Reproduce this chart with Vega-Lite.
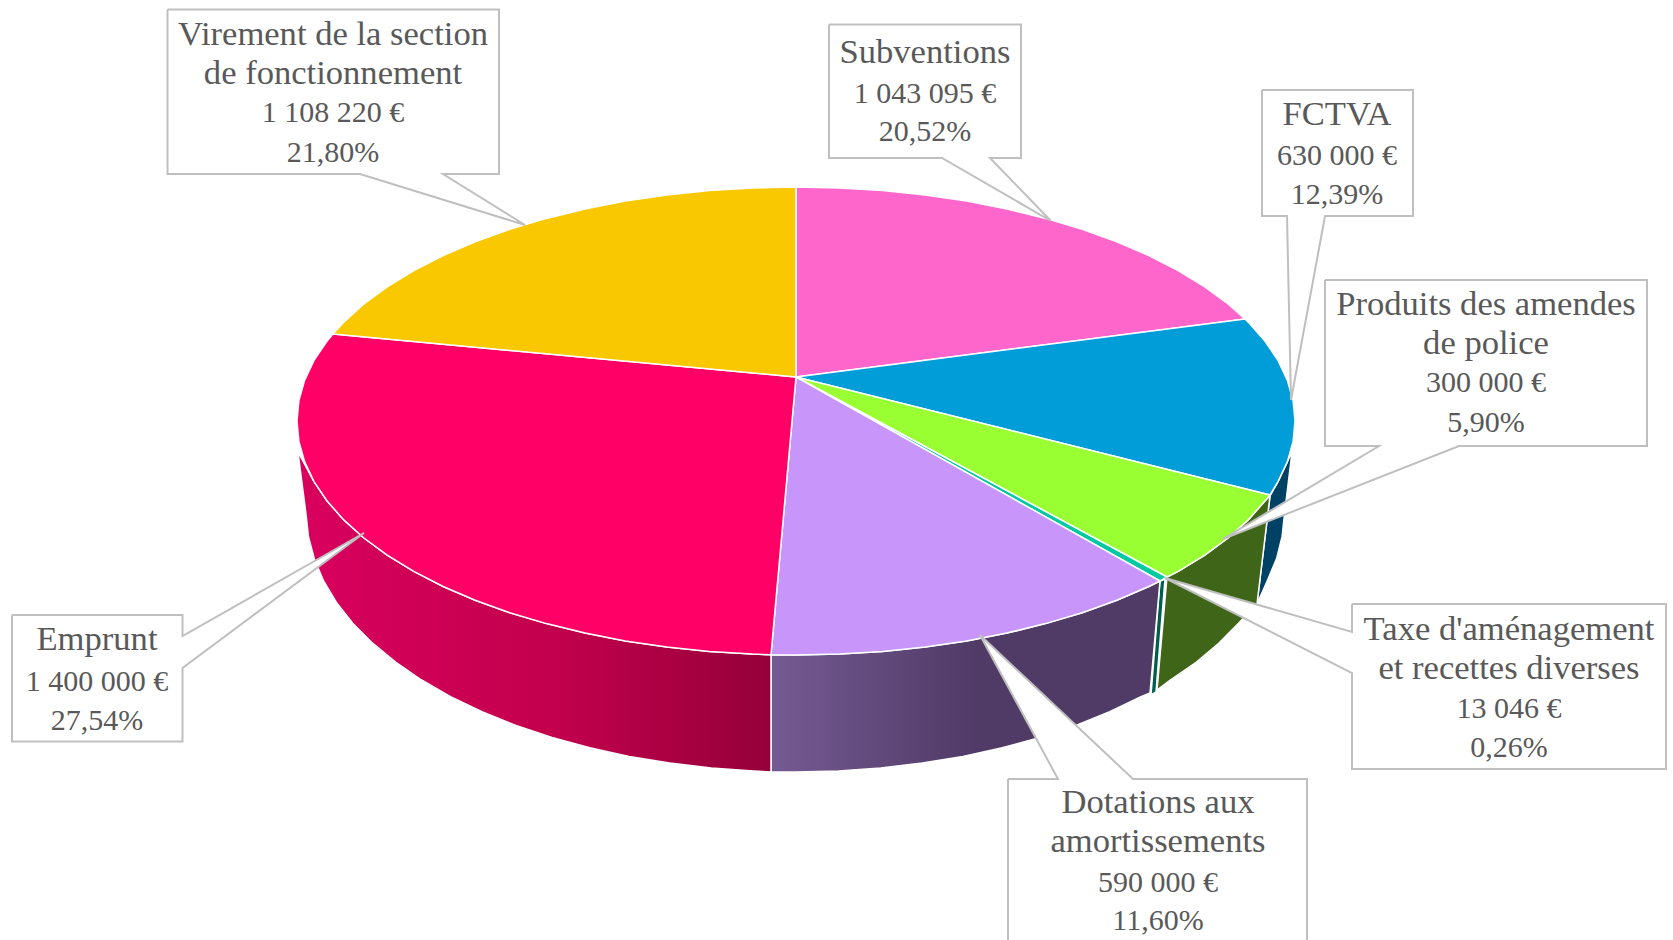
{"$schema":"https://vega.github.io/schema/vega-lite/v6.json","autosize":{"type":"fit","contains":"padding"},"width":1673,"height":940,"padding":0,"background":"white","view":{"stroke":null},
"datasets":{
"side":[
{"s":"FCTVA","o":1,"x":1292,"y":452},{"s":"FCTVA","o":2,"x":1287.4,"y":461.6},{"s":"FCTVA","o":3,"x":1278,"y":481.6},{"s":"FCTVA","o":4,"x":1270,"y":496},{"s":"FCTVA","o":5,"x":1257,"y":604},{"s":"FCTVA","o":6,"x":1267.4,"y":580.5},{"s":"FCTVA","o":7,"x":1276.6,"y":558.6},{"s":"FCTVA","o":8,"x":1282.1,"y":536.4},{"s":"FCTVA","o":9,"x":1284.5,"y":514},{"s":"FCTVA","o":10,"x":1292,"y":452},
{"s":"Produits","o":1,"x":1270,"y":496},{"s":"Produits","o":2,"x":1264.9,"y":501},{"s":"Produits","o":3,"x":1248.2,"y":519.9},{"s":"Produits","o":4,"x":1228.1,"y":538},{"s":"Produits","o":5,"x":1204.8,"y":555.2},{"s":"Produits","o":6,"x":1178.2,"y":571.4},{"s":"Produits","o":7,"x":1167,"y":577},{"s":"Produits","o":8,"x":1157,"y":690},{"s":"Produits","o":9,"x":1170.3,"y":680},{"s":"Produits","o":10,"x":1196.5,"y":662},{"s":"Produits","o":11,"x":1219,"y":643},{"s":"Produits","o":12,"x":1238.8,"y":623},{"s":"Produits","o":13,"x":1257,"y":604},{"s":"Produits","o":14,"x":1270,"y":496},
{"s":"Taxe","o":1,"x":1165,"y":579},{"s":"Taxe","o":2,"x":1160,"y":581},{"s":"Taxe","o":3,"x":1151,"y":695},{"s":"Taxe","o":4,"x":1156,"y":692},{"s":"Taxe","o":5,"x":1165,"y":579}
],
"purpleSide":[
{"s":"Dotations","o":1,"x":1160,"y":581},{"s":"Dotations","o":2,"x":1148.8,"y":586.5},{"s":"Dotations","o":3,"x":1116.8,"y":600.2},{"s":"Dotations","o":4,"x":1082.2,"y":612.7},{"s":"Dotations","o":5,"x":1045.5,"y":623.6},{"s":"Dotations","o":6,"x":1006.9,"y":633.1},{"s":"Dotations","o":7,"x":966.7,"y":640.9},{"s":"Dotations","o":8,"x":925.1,"y":647},{"s":"Dotations","o":9,"x":882.6,"y":651.4},{"s":"Dotations","o":10,"x":839.5,"y":654.1},{"s":"Dotations","o":11,"x":796,"y":655},{"s":"Dotations","o":12,"x":771,"y":654.7},{"s":"Dotations","o":13,"x":771,"y":772},{"s":"Dotations","o":14,"x":796,"y":772},{"s":"Dotations","o":15,"x":838.5,"y":771},{"s":"Dotations","o":16,"x":880.7,"y":768},{"s":"Dotations","o":17,"x":922.3,"y":763},{"s":"Dotations","o":18,"x":962.9,"y":756.4},{"s":"Dotations","o":19,"x":1002.2,"y":747.8},{"s":"Dotations","o":20,"x":1040,"y":737.5},{"s":"Dotations","o":21,"x":1075.9,"y":725.4},{"s":"Dotations","o":22,"x":1109.7,"y":711.8},{"s":"Dotations","o":23,"x":1141,"y":696.7},{"s":"Dotations","o":24,"x":1150,"y":693},{"s":"Dotations","o":25,"x":1160,"y":581}
],
"crimsonSide":[
{"s":"Emprunt","o":1,"x":771,"y":654.7},{"s":"Emprunt","o":2,"x":752.5,"y":654.1},{"s":"Emprunt","o":3,"x":709.4,"y":651.4},{"s":"Emprunt","o":4,"x":666.9,"y":647},{"s":"Emprunt","o":5,"x":625.3,"y":640.9},{"s":"Emprunt","o":6,"x":585.1,"y":633.1},{"s":"Emprunt","o":7,"x":546.5,"y":623.6},{"s":"Emprunt","o":8,"x":509.8,"y":612.7},{"s":"Emprunt","o":9,"x":475.2,"y":600.2},{"s":"Emprunt","o":10,"x":443.2,"y":586.5},{"s":"Emprunt","o":11,"x":413.8,"y":571.4},{"s":"Emprunt","o":12,"x":387.2,"y":555.2},{"s":"Emprunt","o":13,"x":363.9,"y":538},{"s":"Emprunt","o":14,"x":343.8,"y":519.9},{"s":"Emprunt","o":15,"x":327.1,"y":501},{"s":"Emprunt","o":16,"x":314,"y":481.6},{"s":"Emprunt","o":17,"x":298,"y":452},{"s":"Emprunt","o":18,"x":306,"y":514},{"s":"Emprunt","o":19,"x":308.5,"y":537},{"s":"Emprunt","o":20,"x":314.4,"y":559},{"s":"Emprunt","o":21,"x":323.6,"y":581},{"s":"Emprunt","o":22,"x":336.4,"y":602.5},{"s":"Emprunt","o":23,"x":352.7,"y":623.2},{"s":"Emprunt","o":24,"x":372.6,"y":643.2},{"s":"Emprunt","o":25,"x":395.6,"y":662.2},{"s":"Emprunt","o":26,"x":421.6,"y":680},{"s":"Emprunt","o":27,"x":450.5,"y":696.6},{"s":"Emprunt","o":28,"x":482,"y":711.8},{"s":"Emprunt","o":29,"x":516,"y":725.4},{"s":"Emprunt","o":30,"x":552,"y":737.5},{"s":"Emprunt","o":31,"x":589.8,"y":747.8},{"s":"Emprunt","o":32,"x":629.1,"y":756.4},{"s":"Emprunt","o":33,"x":669.7,"y":763},{"s":"Emprunt","o":34,"x":711.3,"y":768},{"s":"Emprunt","o":35,"x":753.5,"y":771},{"s":"Emprunt","o":36,"x":771,"y":772},{"s":"Emprunt","o":37,"x":771,"y":654.7}
],
"top":[
{"s":"Subventions","o":1,"x":796,"y":377},{"s":"Subventions","o":2,"x":796,"y":187},{"s":"Subventions","o":3,"x":839.5,"y":187.9},{"s":"Subventions","o":4,"x":882.6,"y":190.6},{"s":"Subventions","o":5,"x":925.1,"y":195},{"s":"Subventions","o":6,"x":966.7,"y":201.1},{"s":"Subventions","o":7,"x":1006.9,"y":208.9},{"s":"Subventions","o":8,"x":1045.5,"y":218.4},{"s":"Subventions","o":9,"x":1082.2,"y":229.3},{"s":"Subventions","o":10,"x":1116.8,"y":241.8},{"s":"Subventions","o":11,"x":1148.8,"y":255.5},{"s":"Subventions","o":12,"x":1178.2,"y":270.6},{"s":"Subventions","o":13,"x":1204.8,"y":286.8},{"s":"Subventions","o":14,"x":1228.1,"y":304},{"s":"Subventions","o":15,"x":1245,"y":319},{"s":"Subventions","o":16,"x":796,"y":377},
{"s":"FCTVA","o":1,"x":796,"y":377},{"s":"FCTVA","o":2,"x":1245,"y":319},{"s":"FCTVA","o":3,"x":1248.2,"y":322.1},{"s":"FCTVA","o":4,"x":1264.9,"y":341},{"s":"FCTVA","o":5,"x":1278,"y":360.4},{"s":"FCTVA","o":6,"x":1287.4,"y":380.4},{"s":"FCTVA","o":7,"x":1293.1,"y":400.6},{"s":"FCTVA","o":8,"x":1295,"y":421},{"s":"FCTVA","o":9,"x":1293.1,"y":441.4},{"s":"FCTVA","o":10,"x":1287.4,"y":461.6},{"s":"FCTVA","o":11,"x":1278,"y":481.6},{"s":"FCTVA","o":12,"x":1270,"y":495},{"s":"FCTVA","o":13,"x":796,"y":377},
{"s":"Produits","o":1,"x":796,"y":377},{"s":"Produits","o":2,"x":1270,"y":495},{"s":"Produits","o":3,"x":1264.9,"y":501},{"s":"Produits","o":4,"x":1248.2,"y":519.9},{"s":"Produits","o":5,"x":1228.1,"y":538},{"s":"Produits","o":6,"x":1204.8,"y":555.2},{"s":"Produits","o":7,"x":1178.2,"y":571.4},{"s":"Produits","o":8,"x":1167,"y":577},{"s":"Produits","o":9,"x":796,"y":377},
{"s":"Taxe","o":1,"x":796,"y":377},{"s":"Taxe","o":2,"x":1167,"y":577},{"s":"Taxe","o":3,"x":1160,"y":581},{"s":"Taxe","o":4,"x":796,"y":377},
{"s":"Dotations","o":1,"x":796,"y":377},{"s":"Dotations","o":2,"x":1160,"y":581},{"s":"Dotations","o":3,"x":1148.8,"y":586.5},{"s":"Dotations","o":4,"x":1116.8,"y":600.2},{"s":"Dotations","o":5,"x":1082.2,"y":612.7},{"s":"Dotations","o":6,"x":1045.5,"y":623.6},{"s":"Dotations","o":7,"x":1006.9,"y":633.1},{"s":"Dotations","o":8,"x":966.7,"y":640.9},{"s":"Dotations","o":9,"x":925.1,"y":647},{"s":"Dotations","o":10,"x":882.6,"y":651.4},{"s":"Dotations","o":11,"x":839.5,"y":654.1},{"s":"Dotations","o":12,"x":796,"y":655},{"s":"Dotations","o":13,"x":771,"y":654.7},{"s":"Dotations","o":14,"x":796,"y":377},
{"s":"Emprunt","o":1,"x":796,"y":377},{"s":"Emprunt","o":2,"x":771,"y":654.7},{"s":"Emprunt","o":3,"x":752.5,"y":654.1},{"s":"Emprunt","o":4,"x":709.4,"y":651.4},{"s":"Emprunt","o":5,"x":666.9,"y":647},{"s":"Emprunt","o":6,"x":625.3,"y":640.9},{"s":"Emprunt","o":7,"x":585.1,"y":633.1},{"s":"Emprunt","o":8,"x":546.5,"y":623.6},{"s":"Emprunt","o":9,"x":509.8,"y":612.7},{"s":"Emprunt","o":10,"x":475.2,"y":600.2},{"s":"Emprunt","o":11,"x":443.2,"y":586.5},{"s":"Emprunt","o":12,"x":413.8,"y":571.4},{"s":"Emprunt","o":13,"x":387.2,"y":555.2},{"s":"Emprunt","o":14,"x":363.9,"y":538},{"s":"Emprunt","o":15,"x":343.8,"y":519.9},{"s":"Emprunt","o":16,"x":327.1,"y":501},{"s":"Emprunt","o":17,"x":314,"y":481.6},{"s":"Emprunt","o":18,"x":304.6,"y":461.6},{"s":"Emprunt","o":19,"x":298.9,"y":441.4},{"s":"Emprunt","o":20,"x":297,"y":421},{"s":"Emprunt","o":21,"x":298.9,"y":400.6},{"s":"Emprunt","o":22,"x":304.6,"y":380.4},{"s":"Emprunt","o":23,"x":314,"y":360.4},{"s":"Emprunt","o":24,"x":327.1,"y":341},{"s":"Emprunt","o":25,"x":333,"y":334},{"s":"Emprunt","o":26,"x":796,"y":377},
{"s":"Virement","o":1,"x":796,"y":377},{"s":"Virement","o":2,"x":333,"y":334},{"s":"Virement","o":3,"x":343.8,"y":322.1},{"s":"Virement","o":4,"x":363.9,"y":304},{"s":"Virement","o":5,"x":387.2,"y":286.8},{"s":"Virement","o":6,"x":413.8,"y":270.6},{"s":"Virement","o":7,"x":443.2,"y":255.5},{"s":"Virement","o":8,"x":475.2,"y":241.8},{"s":"Virement","o":9,"x":509.8,"y":229.3},{"s":"Virement","o":10,"x":546.5,"y":218.4},{"s":"Virement","o":11,"x":585.1,"y":208.9},{"s":"Virement","o":12,"x":625.3,"y":201.1},{"s":"Virement","o":13,"x":666.9,"y":195},{"s":"Virement","o":14,"x":709.4,"y":190.6},{"s":"Virement","o":15,"x":752.5,"y":187.9},{"s":"Virement","o":16,"x":796,"y":187},{"s":"Virement","o":17,"x":796,"y":377}
],
"callouts":[
{"s":"Virement","o":1,"x":167.5,"y":9.5},{"s":"Virement","o":2,"x":499,"y":9.5},{"s":"Virement","o":3,"x":499,"y":174},{"s":"Virement","o":4,"x":443,"y":174},{"s":"Virement","o":5,"x":525,"y":225},{"s":"Virement","o":6,"x":360,"y":174},{"s":"Virement","o":7,"x":167.5,"y":174},{"s":"Virement","o":8,"x":167.5,"y":9.5},
{"s":"Subventions","o":1,"x":829,"y":24.5},{"s":"Subventions","o":2,"x":1021,"y":24.5},{"s":"Subventions","o":3,"x":1021,"y":158},{"s":"Subventions","o":4,"x":990,"y":158},{"s":"Subventions","o":5,"x":1051,"y":221},{"s":"Subventions","o":6,"x":942,"y":158},{"s":"Subventions","o":7,"x":829,"y":158},{"s":"Subventions","o":8,"x":829,"y":24.5},
{"s":"FCTVA","o":1,"x":1262,"y":90},{"s":"FCTVA","o":2,"x":1413,"y":90},{"s":"FCTVA","o":3,"x":1413,"y":216},{"s":"FCTVA","o":4,"x":1325,"y":216},{"s":"FCTVA","o":5,"x":1291,"y":400},{"s":"FCTVA","o":6,"x":1287,"y":216},{"s":"FCTVA","o":7,"x":1262,"y":216},{"s":"FCTVA","o":8,"x":1262,"y":90},
{"s":"Produits","o":1,"x":1325,"y":280},{"s":"Produits","o":2,"x":1647,"y":280},{"s":"Produits","o":3,"x":1647,"y":446},{"s":"Produits","o":4,"x":1459,"y":446},{"s":"Produits","o":5,"x":1223,"y":539},{"s":"Produits","o":6,"x":1379,"y":446},{"s":"Produits","o":7,"x":1325,"y":446},{"s":"Produits","o":8,"x":1325,"y":280},
{"s":"Taxe","o":1,"x":1352,"y":604},{"s":"Taxe","o":2,"x":1666,"y":604},{"s":"Taxe","o":3,"x":1666,"y":769},{"s":"Taxe","o":4,"x":1352,"y":769},{"s":"Taxe","o":5,"x":1352,"y":673},{"s":"Taxe","o":6,"x":1165,"y":578},{"s":"Taxe","o":7,"x":1352,"y":632},{"s":"Taxe","o":8,"x":1352,"y":604},
{"s":"Dotations","o":1,"x":1008,"y":779},{"s":"Dotations","o":2,"x":1058,"y":779},{"s":"Dotations","o":3,"x":980,"y":635},{"s":"Dotations","o":4,"x":1133,"y":779},{"s":"Dotations","o":5,"x":1307,"y":779},{"s":"Dotations","o":6,"x":1307,"y":950},{"s":"Dotations","o":7,"x":1008,"y":950},{"s":"Dotations","o":8,"x":1008,"y":779},
{"s":"Emprunt","o":1,"x":12,"y":615},{"s":"Emprunt","o":2,"x":182.5,"y":615},{"s":"Emprunt","o":3,"x":182.5,"y":636},{"s":"Emprunt","o":4,"x":364,"y":533},{"s":"Emprunt","o":5,"x":182.5,"y":668},{"s":"Emprunt","o":6,"x":182.5,"y":741.5},{"s":"Emprunt","o":7,"x":12,"y":741.5},{"s":"Emprunt","o":8,"x":12,"y":615}
],
"labels":[
{"t":"Virement de la section","x":333,"y":45},{"t":"de fonctionnement","x":333,"y":84},{"t":"1 108 220 €","x":333,"y":122},{"t":"21,80%","x":333,"y":162},
{"t":"Subventions","x":925,"y":63},{"t":"1 043 095 €","x":925,"y":103},{"t":"20,52%","x":925,"y":141},
{"t":"FCTVA","x":1337,"y":125},{"t":"630 000 €","x":1337,"y":165},{"t":"12,39%","x":1337,"y":204},
{"t":"Produits des amendes","x":1486,"y":315},{"t":"de police","x":1486,"y":354},{"t":"300 000 €","x":1486,"y":392},{"t":"5,90%","x":1486,"y":432},
{"t":"Taxe d'aménagement","x":1509,"y":640},{"t":"et recettes diverses","x":1509,"y":679},{"t":"13 046 €","x":1509,"y":718},{"t":"0,26%","x":1509,"y":757},
{"t":"Dotations aux","x":1158,"y":813},{"t":"amortissements","x":1158,"y":852},{"t":"590 000 €","x":1158,"y":892},{"t":"11,60%","x":1158,"y":930},
{"t":"Emprunt","x":97,"y":650},{"t":"1 400 000 €","x":97,"y":691},{"t":"27,54%","x":97,"y":730}
]},
"encoding":{
"x":{"field":"x","type":"quantitative","axis":null,"scale":{"domain":[0,1673],"nice":false,"zero":false}},
"y":{"field":"y","type":"quantitative","axis":null,"scale":{"domain":[0,940],"reverse":true,"nice":false,"zero":false}}
},
"layer":[
{"data":{"name":"side"},"mark":{"type":"line","filled":true,"stroke":"white","strokeWidth":1.5,"strokeJoin":"round"},"encoding":{"order":{"field":"o","type":"quantitative"},"fill":{"field":"s","type":"nominal","legend":null,"scale":{"domain":["FCTVA","Produits","Taxe"],"range":["#004266","#3F6518","#005F4C"]}}}},
{"data":{"name":"purpleSide"},"mark":{"type":"line","filled":true,"stroke":"white","strokeWidth":1.5,"strokeJoin":"round","fill":{"gradient":"linear","x1":0,"y1":0,"x2":1,"y2":0,"stops":[{"offset":0,"color":"#755A93"},{"offset":0.53,"color":"#503A66"},{"offset":1,"color":"#503A66"}]}},"encoding":{"order":{"field":"o","type":"quantitative"}}},
{"data":{"name":"crimsonSide"},"mark":{"type":"line","filled":true,"stroke":"white","strokeWidth":1.5,"strokeJoin":"round","fill":{"gradient":"linear","x1":0,"y1":0,"x2":1,"y2":0,"stops":[{"offset":0,"color":"#D9005E"},{"offset":0.55,"color":"#C2004C"},{"offset":1,"color":"#94003A"}]}},"encoding":{"order":{"field":"o","type":"quantitative"}}},
{"data":{"name":"top"},"mark":{"type":"line","filled":true,"stroke":"white","strokeWidth":1.5,"strokeJoin":"round"},"encoding":{"order":{"field":"o","type":"quantitative"},"fill":{"field":"s","type":"nominal","legend":null,"scale":{"domain":["Subventions","FCTVA","Produits","Taxe","Dotations","Emprunt","Virement"],"range":["#FF66CC","#009DD9","#99FF33","#00C8A0","#C896FA","#FF0066","#FAC800"]}}}},
{"data":{"name":"callouts"},"mark":{"type":"line","clip":true,"filled":true,"fill":"white","stroke":"#BFBFBF","strokeWidth":2,"strokeJoin":"miter"},"encoding":{"order":{"field":"o","type":"quantitative"},"detail":{"field":"s","type":"nominal"}}},
{"data":{"name":"labels"},"transform":[{"filter":"!test(/[0-9]/, datum.t)"}],"mark":{"type":"text","font":"Liberation Serif","fontSize":34.6,"fill":"#595959","align":"center","baseline":"alphabetic"},"encoding":{"text":{"field":"t","type":"nominal"}}},
{"data":{"name":"labels"},"transform":[{"filter":"test(/[0-9]/, datum.t)"}],"mark":{"type":"text","font":"Liberation Serif","fontSize":30,"fill":"#595959","align":"center","baseline":"alphabetic"},"encoding":{"text":{"field":"t","type":"nominal"}}}
],
"resolve":{"scale":{"fill":"independent"}}
}
